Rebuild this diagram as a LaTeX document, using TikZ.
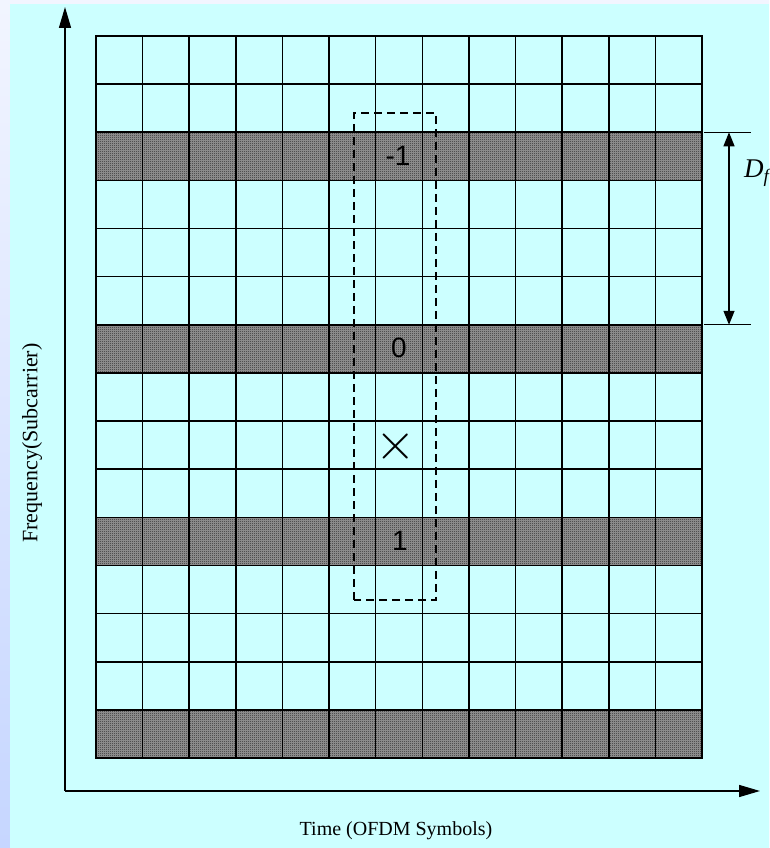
\documentclass[tikz,border=0pt]{standalone}
\usepackage{fontspec}
\setmainfont{Liberation Serif}
\newfontfamily\arialfont{Liberation Sans}
\usetikzlibrary{arrows.meta,patterns.meta}

\definecolor{panelcyan}{HTML}{CCFFFF}
\definecolor{stripTop}{HTML}{F2F5FF}
\definecolor{stripBottom}{HTML}{C6D6FF}
\definecolor{pilotgray}{HTML}{A0A0A0}

% fine black/white checker for the pilot rows
\tikzdeclarepattern{
  name=finechecker,
  type=uncolored,
  bounding box={(0pt,0pt) and (2pt,2pt)},
  tile size={(2pt,2pt)},
  code={
    \fill (0pt,0pt) rectangle (1pt,1pt);
    \fill (1pt,1pt) rectangle (2pt,2pt);
  }
}

\begin{document}
\begin{tikzpicture}[x=1pt, y=1pt,
    gridline/.style={line width=1.6pt, line cap=rect},
    axisline/.style={line width=1.5pt, -{Triangle[length=21pt,width=12pt]}},
    cellmark/.style={font=\arialfont\fontsize{28}{28}\selectfont, inner sep=0pt},
    dfarrow/.style={line width=1.3pt, {Triangle[length=14pt,width=11pt]}-{Triangle[length=14pt,width=11pt]}}
  ]
  \useasboundingbox (0,0) rectangle (769,848);

  % Background
  \shade[top color=stripTop, bottom color=stripBottom] (0,0) rectangle (769,848);
  \fill[panelcyan] (10,0) rectangle (769,844);

  % Pilot rows (shaded)
  \foreach \j in {0,4,8,12}
    \path[fill=pilotgray, postaction={pattern=finechecker, pattern color=black}]
      (96,90+\j*48.133) rectangle (702,138.133+\j*48.133);

  % Grid: 13 symbols x 15 subcarriers
  \foreach \i in {0,...,13}
    \draw[gridline] (96+\i*46.615,90) -- (96+\i*46.615,812);
  \foreach \j in {0,...,15}
    \draw[gridline] (96,90+\j*48.133) -- (702,90+\j*48.133);

  % Axes
  \coordinate (origin) at (65,57);
  \coordinate (ytip) at (65,841);
  \coordinate (xtip) at (760,57);
  \draw[axisline] (origin) -- (ytip);
  \draw[axisline] (origin) -- (xtip);

  % Axis labels
  \node[font=\fontsize{20}{20}\selectfont] (timelabel) at (396,17) {Time (OFDM Symbols)};
  \node[font=\fontsize{22}{22}\selectfont, rotate=90] (freqlabel) at (32,405) {Frequency(Subcarrier)};

  % Dashed window round the used pilots
  \draw[dash pattern=on 8pt off 5pt, line width=1.1pt] (354,248) rectangle (436,735);

  % Pilot indices and target cell
  \node[cellmark] (pilotup) at (398,692.5) {-1};
  \node[cellmark] (pilotmid) at (399,500) {0};
  \node[cellmark] (pilotdown) at (400,307.5) {1};
  \node[scale=5.2, inner sep=0pt, line width=0.6pt] (target) at (396,401.5) {$\times$};

  % Pilot spacing D_f
  \coordinate (dftop) at (729,715.7);
  \coordinate (dfbot) at (729,523.2);
  \draw[line width=1pt] (704,715.7) -- (751,715.7);
  \draw[line width=1pt] (704,523.2) -- (751,523.2);
  \draw[dfarrow] (dftop) -- (dfbot);
  \node[anchor=west, inner sep=0pt, font=\fontsize{27}{27}\selectfont] (dflabel) at (744,675) {\textit{D}\textsubscript{\textit{f}}};
\end{tikzpicture}
\end{document}
